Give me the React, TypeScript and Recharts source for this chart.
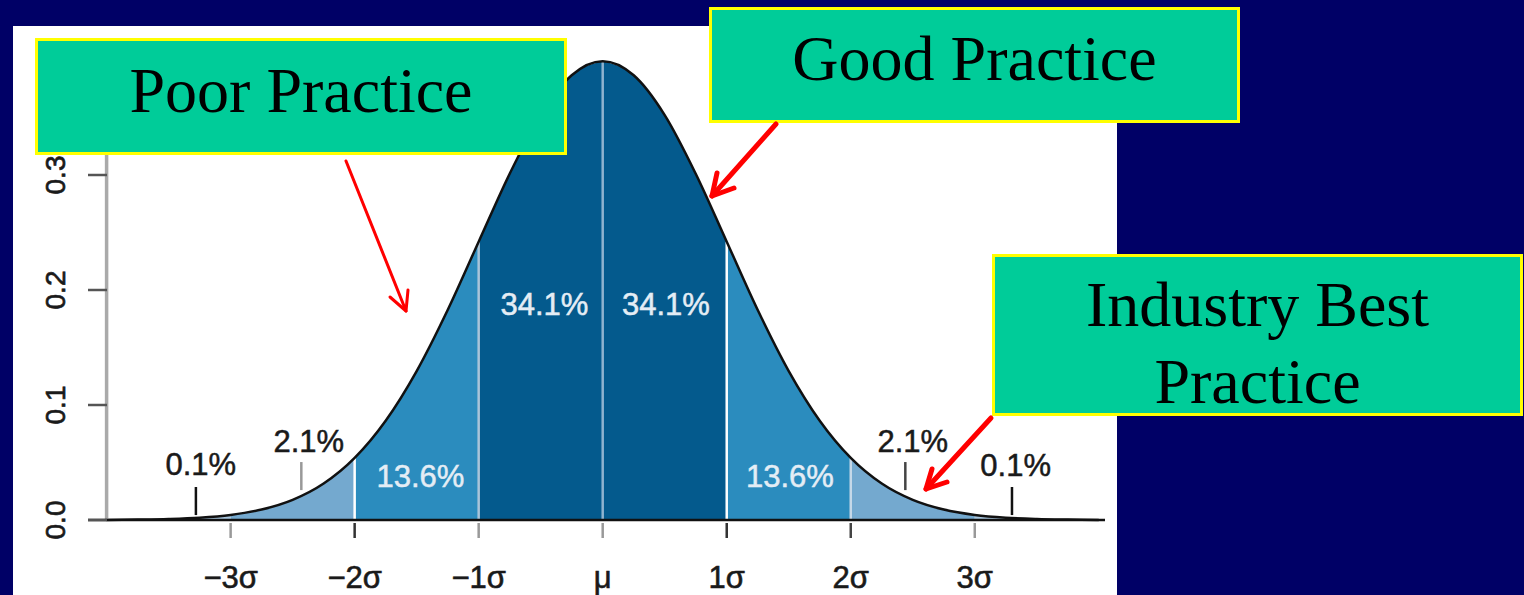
import React from "react";
import {
  ComposedChart,
  Area,
  Line,
  Scatter,
  XAxis,
  YAxis,
  ReferenceLine,
} from "recharts";

// ---- data ----
const sigmaPoints = [
  -4, -3.75, -3.5, -3.25, -3, -2.75, -2.5, -2.25, -2, -1.75, -1.5, -1.25, -1,
  -0.75, -0.5, -0.25, 0, 0.25, 0.5, 0.75, 1, 1.25, 1.5, 1.75, 2, 2.25, 2.5,
  2.75, 3, 3.25, 3.5, 3.75, 4,
];
const densityValues = [
  0.0001, 0.0004, 0.0009, 0.002, 0.0044, 0.0091, 0.0175, 0.0317, 0.054, 0.0863,
  0.1295, 0.1826, 0.242, 0.3011, 0.3521, 0.3867, 0.3989, 0.3867, 0.3521, 0.3011,
  0.242, 0.1826, 0.1295, 0.0863, 0.054, 0.0317, 0.0175, 0.0091, 0.0044, 0.002,
  0.0009, 0.0004, 0.0001,
];
const bandEdges = [-4, -3, -2, -1, 0, 1, 2, 3, 4];
const dividerSigmas = [-2, -1, 0, 1, 2];

const xTicks = [-3, -2, -1, 0, 1, 2, 3];
const xTickLabels = ["\u22123\u03c3", "\u22122\u03c3", "\u22121\u03c3", "\u03bc", "1\u03c3", "2\u03c3", "3\u03c3"];
const yTicks = [0, 0.1, 0.2, 0.3, 0.4];
const yTickLabels = ["0.0", "0.1", "0.2", "0.3", "0.4"];

const pctLabelText = ["0.1%", "2.1%", "13.6%", "34.1%", "34.1%", "13.6%", "2.1%", "0.1%"];
const pctLabelX = [-3.24, -2.37, -1.47, -0.47, 0.51, 1.51, 2.5, 3.33];
const pctLabelY = [0.0487, 0.0687, 0.0383, 0.188, 0.188, 0.0383, 0.069, 0.0475];
const pctLabelInside = [false, false, true, true, true, true, false, false];

const markerX = [-3.28, -2.43, 2.44, 3.3];
const markerLow = [0.0043, 0.026, 0.026, 0.0043];
const markerHigh = [0.0287, 0.0504, 0.0504, 0.0287];

// ---- styles ----
const bandColors = ["#a9c7e0", "#74a9cf", "#2b8cbe", "#045a8d", "#045a8d", "#2b8cbe", "#74a9cf", "#a9c7e0"];
const dividerColors = ["#ffffff", "#a9c4d9", "#8fb3cf", "#ffffff", "#c6d8e8"];
const markerColors = ["#111111", "#999999", "#444444", "#111111"];
const xTickColors = ["#999", "#333", "#999", "#999", "#333", "#444", "#999"];
const SANS = "'Liberation Sans', Arial, Helvetica, sans-serif";
const SERIF = "'Liberation Serif', 'Times New Roman', serif";

const bandKeys = bandEdges.slice(0, -1).map((_, i) => `band${i}`);

const rows = sigmaPoints.map((x, i) => {
  const row: Record<string, number | null> = { x, density: densityValues[i] };
  bandKeys.forEach((k, b) => {
    row[k] = x >= bandEdges[b] && x <= bandEdges[b + 1] ? densityValues[i] : null;
  });
  return row;
});

const pctLabels = pctLabelText.map((text, i) => ({
  x: pctLabelX[i],
  y: pctLabelY[i],
  text,
  inside: pctLabelInside[i],
}));

const densityAt = (x: number) => densityValues[sigmaPoints.indexOf(x)];

const XTick = (props: any) => {
  const { x, y, payload } = props;
  const idx = xTicks.indexOf(payload.value);
  return (
    <g>
      <line x1={x} x2={x} y1={y + 3} y2={y + 18} stroke={xTickColors[idx]} strokeWidth={2.5} />
      <text
        x={x}
        y={y + 68}
        textAnchor="middle"
        fontSize={31}
        fontFamily={SANS}
        fill="#1a1a1a"
        stroke="#1a1a1a"
        strokeWidth={0.6}
      >
        {xTickLabels[idx]}
      </text>
    </g>
  );
};

const YTick = (props: any) => {
  const { x, y, payload } = props;
  const idx = yTicks.indexOf(payload.value);
  const tx = x - 23;
  return (
    <g>
      <line x1={x} x2={x + 19} y1={y} y2={y} stroke="#555" strokeWidth={2.5} />
      <text
        x={tx}
        y={y}
        transform={`rotate(-90, ${tx}, ${y})`}
        textAnchor="middle"
        fontSize={28}
        fontFamily={SANS}
        fill="#1a1a1a"
        stroke="#1a1a1a"
        strokeWidth={0.7}
      >
        {yTickLabels[idx]}
      </text>
    </g>
  );
};

const PctLabel = (props: any) => {
  const { cx, cy, payload } = props;
  const c = payload.inside ? "#e4edf5" : "#1a1a1a";
  return (
    <text
      x={cx}
      y={cy + 11}
      textAnchor="middle"
      fontSize={31}
      fontFamily={SANS}
      fill={c}
      stroke={c}
      strokeWidth={0.5}
    >
      {payload.text}
    </text>
  );
};

const Callout = ({ x, y, w, h, lines, baselines }: any) => (
  <g>
    <rect x={x + 1.5} y={y + 1.5} width={w - 3} height={h - 3} fill="#00cc99" stroke="#ffff00" strokeWidth={3} />
    {lines.map((t: string, i: number) => (
      <text key={i} x={x + w / 2} y={baselines[i]} textAnchor="middle" fontSize={64} fontFamily={SERIF} fill="#000">
        {t}
      </text>
    ))}
  </g>
);

const Arrow = ({ from, to, w1, w2, width }: any) => (
  <g stroke="#ff0000" strokeWidth={width} strokeLinecap="round" strokeLinejoin="round" fill="none">
    <line x1={from[0]} y1={from[1]} x2={to[0]} y2={to[1]} />
    <polyline points={`${w1[0]},${w1[1]} ${to[0]},${to[1]} ${w2[0]},${w2[1]}`} />
  </g>
);

export default function App() {
  return (
    <div
      style={{
        position: "absolute",
        left: 0,
        top: 0,
        width: 1524,
        height: 595,
        background: "#000066",
        overflow: "hidden",
      }}
    >
      <div style={{ position: "absolute", left: 13, top: 26, width: 1104, height: 569, background: "#ffffff" }} />
      <div style={{ position: "absolute", left: 0, top: 0 }}>
        <ComposedChart
          width={1524}
          height={595}
          data={rows}
          margin={{ top: 37, right: 419, bottom: 0, left: 0 }}
        >
          <XAxis
            dataKey="x"
            type="number"
            domain={[-4.15, 4.05]}
            ticks={xTicks}
            height={75}
            tickSize={0}
            tickMargin={0}
            tickLine={false}
            axisLine={{ stroke: "#111", strokeWidth: 2.5 }}
            tick={<XTick />}
            interval={0}
          />
          <YAxis
            type="number"
            domain={[0, 0.42]}
            ticks={yTicks}
            width={88}
            tickSize={0}
            tickMargin={0}
            tickLine={false}
            axisLine={false}
            tick={<YTick />}
            interval={0}
          />
          {bandKeys.map((k, i) => (
            <Area
              key={k}
              dataKey={k}
              type="monotone"
              fill={bandColors[i]}
              fillOpacity={1}
              stroke="none"
              baseValue={0}
              connectNulls={false}
              dot={false}
              activeDot={false}
              isAnimationActive={false}
            />
          ))}
          {dividerSigmas.map((s, i) => (
            <ReferenceLine
              key={`d${s}`}
              segment={[
                { x: s, y: 0 },
                { x: s, y: densityAt(s) },
              ]}
              stroke={dividerColors[i]}
              strokeWidth={2.5}
            />
          ))}
          <Line
            dataKey="density"
            type="monotone"
            stroke="#111"
            strokeWidth={2.5}
            dot={false}
            activeDot={false}
            isAnimationActive={false}
          />
          <ReferenceLine
            segment={[
              { x: -4, y: 0 },
              { x: -4, y: 0.4 },
            ]}
            stroke="#aaaaaa"
            strokeWidth={3.5}
          />
          {markerX.map((mx, i) => (
            <ReferenceLine
              key={`m${i}`}
              segment={[
                { x: mx, y: markerLow[i] },
                { x: mx, y: markerHigh[i] },
              ]}
              stroke={markerColors[i]}
              strokeWidth={2.5}
            />
          ))}
          <Scatter
            data={pctLabels}
            dataKey="y"
            shape={<PctLabel />}
            isAnimationActive={false}
          />
        </ComposedChart>
      </div>
      <svg
        width={1524}
        height={595}
        style={{ position: "absolute", left: 0, top: 0, pointerEvents: "none" }}
      >
        <Callout x={35} y={38} w={532} h={117} lines={["Poor Practice"]} baselines={[112]} />
        <Callout x={709} y={7} w={531} h={116} lines={["Good Practice"]} baselines={[80]} />
        <Callout x={992} y={254} w={531} h={162} lines={["Industry Best", "Practice"]} baselines={[326, 403]} />
        <Arrow from={[346, 161]} to={[406, 311]} w1={[390, 297]} w2={[408, 290]} width={3} />
        <Arrow from={[776, 124]} to={[712, 196]} w1={[717, 173]} w2={[734, 188]} width={5} />
        <Arrow from={[991, 418]} to={[926, 489]} w1={[932, 469]} w2={[947, 482]} width={5} />
      </svg>
    </div>
  );
}
